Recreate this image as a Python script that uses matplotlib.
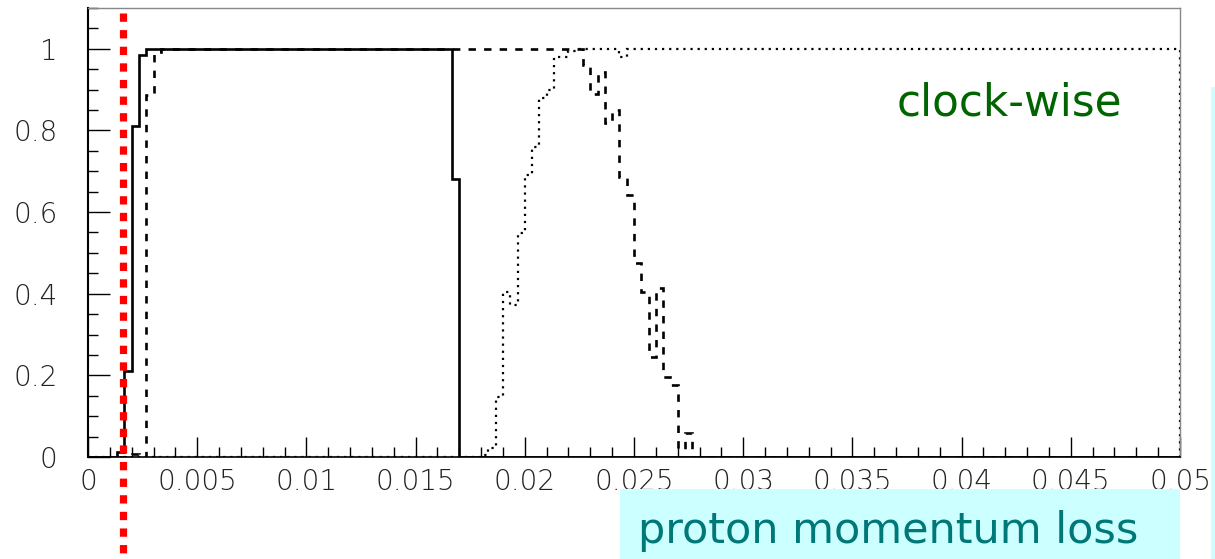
import numpy as np
import matplotlib
matplotlib.use("Agg")
import matplotlib.pyplot as plt
from matplotlib.patches import Rectangle

# ---- data ----
# solid histogram: bin edges (momentum loss) and contents
solid_edges = [0.0, 0.00133, 0.00167, 0.002, 0.00233, 0.00267, 0.01667, 0.017, 0.05]
solid_vals = [0.0, 0.013, 0.21, 0.81, 0.985, 1.0, 0.68, 0.0]

# dashed histogram
dashed_edges = [0.0, 0.002, 0.00233, 0.00267, 0.003, 0.00333, 0.02267, 0.023, 0.02333,
                0.02367, 0.024, 0.02433, 0.02467, 0.025, 0.02533, 0.02567, 0.026,
                0.02633, 0.02667, 0.027, 0.02733, 0.02767, 0.05]
dashed_vals = [0.0, 0.008, 0.0, 0.887, 0.993, 1.0, 0.96, 0.89, 0.944, 0.818, 0.85,
               0.687, 0.642, 0.475, 0.405, 0.246, 0.414, 0.197, 0.176, 0.02, 0.06, 0.0]

# dotted histogram
dotted_edges = [0.0, 0.018, 0.01833, 0.01867, 0.019, 0.01933, 0.01967, 0.02, 0.02033,
                0.02067, 0.021, 0.02133, 0.02167, 0.022, 0.02233, 0.02433, 0.02467, 0.05]
dotted_vals = [0.0, 0.005, 0.021, 0.148, 0.405, 0.373, 0.548, 0.69, 0.76, 0.879, 0.90,
               0.981, 0.98, 0.995, 1.0, 0.98, 1.0]

# red vertical cut
cut_x = 0.0016

x_ticks = [0.0, 0.005, 0.01, 0.015, 0.02, 0.025, 0.03, 0.035, 0.04, 0.045, 0.05]
x_tick_labels = ["0", "0.005", "0.01", "0.015", "0.02", "0.025", "0.03", "0.035",
                 "0.04", "0.045", "0.05"]
y_ticks = [0.0, 0.2, 0.4, 0.6, 0.8, 1.0]
y_tick_labels = ["0", "0.2", "0.4", "0.6", "0.8", "1"]

label_text = "clock-wise"
axis_text = "proton momentum loss"

# ---- figure ----
W, H = 1215, 559
fig = plt.figure(figsize=(W / 100, H / 100), dpi=100)
fig.patch.set_facecolor("white")

# cyan decorations (background)
fig.patches.append(Rectangle((620 / W, 0), (1180 - 620) / W, (559 - 489) / H,
                             transform=fig.transFigure, facecolor="#ccffff",
                             edgecolor="none", zorder=0))
fig.patches.append(Rectangle((1211 / W, 0), 4 / W, (559 - 87) / H,
                             transform=fig.transFigure, facecolor="#ccffff",
                             edgecolor="none", zorder=0))

ax = fig.add_axes([88 / W, (559 - 457) / H, (1180 - 88) / W, (457 - 8) / H])
ax.set_xlim(0, 0.05)
ax.set_ylim(0, 1.1)

ax.stairs(dotted_vals, dotted_edges, baseline=0, color="black", lw=1.6,
          linestyle=(0, (1.0, 2.2)), zorder=2)
ax.stairs(dashed_vals, dashed_edges, baseline=0, color="black", lw=1.9,
          linestyle=(0, (2.8, 3.1)), zorder=3)
ax.stairs(solid_vals, solid_edges, baseline=0, color="black", lw=1.9, zorder=4)

ax.plot([cut_x, cut_x], [0.988, -0.235], transform=ax.get_xaxis_transform(),
        color="#ff0000", lw=5.2, linestyle=(0, (1.15, 1.15)),
        solid_capstyle="butt", dash_capstyle="butt", clip_on=False, zorder=6)

# ticks
ax.set_xticks(x_ticks)
ax.set_xticklabels(x_tick_labels)
ax.set_xticks(np.arange(0, 0.0501, 0.001), minor=True)
ax.set_yticks(y_ticks)
ax.set_yticklabels(y_tick_labels)
ax.set_yticks(np.arange(0, 1.101, 0.05), minor=True)

ax.tick_params(axis="both", which="both", direction="in", top=False, right=False,
               colors="black", labelcolor="black")
ax.tick_params(axis="x", which="major", length=14.5, width=1.0, pad=8)
ax.tick_params(axis="x", which="minor", length=7, width=1.0)
ax.tick_params(axis="y", which="major", length=16, width=1.0, pad=22)
ax.tick_params(axis="y", which="minor", length=7.5, width=1.0)

for lab in ax.get_xticklabels() + ax.get_yticklabels():
    lab.set_fontfamily("DejaVu Sans")
    lab.set_fontsize(20)
    lab.set_fontweight("light")
    lab.set_color("#222222")

ax.spines["left"].set_linewidth(1.5)
ax.spines["bottom"].set_linewidth(1.2)
ax.spines["top"].set_color("#888888")
ax.spines["right"].set_color("#888888")
ax.spines["top"].set_linewidth(1.0)
ax.spines["right"].set_linewidth(1.0)

fig.text(897 / W, 1 - 115 / H, label_text, color="#006400", fontsize=31.5,
         family="DejaVu Sans", ha="left", va="baseline")
fig.text(638 / W, 1 - 543 / H, axis_text, color="#007878", fontsize=31,
         family="DejaVu Sans", ha="left", va="baseline")

fig.savefig("out.png", dpi=100, facecolor="white")
